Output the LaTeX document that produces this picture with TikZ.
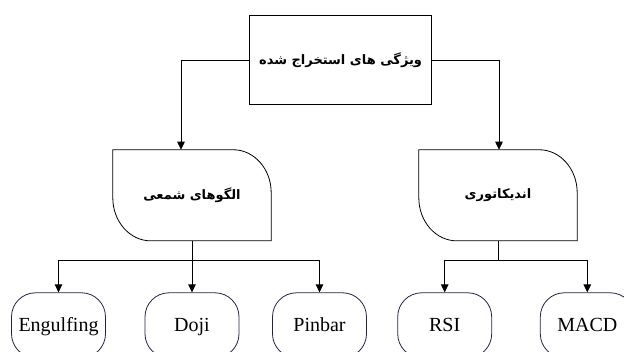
\documentclass[tikz,border=0pt]{standalone}
\usepackage{fontspec}
\setmainfont{Liberation Serif}
\newfontfamily\fa[Script=Arabic]{DejaVu Sans}
\TeXXeTstate=1
\usetikzlibrary{arrows.meta,calc}
\definecolor{navy}{RGB}{35,35,70}
\tikzset{
  line/.style={draw=black, line width=0.8pt},
  arr/.style={line, -{Triangle[length=8pt,width=7.5pt]}},
  topbox/.style={draw=black, line width=0.8pt, minimum width=182pt, minimum height=88.6pt, inner sep=0pt},
  midbox/.style={minimum width=158pt, minimum height=90.7pt, inner sep=0pt},
  leaf/.style={draw=navy, line width=0.8pt, rounded corners=24pt, minimum width=94pt, minimum height=65pt, inner sep=0pt, text height=13pt, text depth=0pt, font=\fontsize{20}{22}\selectfont},
  fatext/.style={font=\fa\bfseries\fontsize{13}{16}\selectfont}
}
\begin{document}
\begin{tikzpicture}[x=1pt,y=1pt]
\useasboundingbox (0,0) rectangle (624,351);
% top box
\node[topbox, fatext] (top) at (340.6,291) {\beginR ویژگی های استخراج شده\endR};
% middle nodes
\node[midbox, fatext] (L) at (192,155.7) {\beginR الگوهای شمعی\endR};
\node[midbox, fatext] (R) at (498,155.7) {\beginR اندیکاتوری\endR};
\foreach \n in {L,R}{
  \draw[line] (\n.north west) -- ($(\n.north east)+(-38pt,0)$)
    arc[start angle=90, end angle=0, x radius=38pt, y radius=43pt]
    -- (\n.south east) -- ($(\n.south west)+(38pt,0)$)
    arc[start angle=270, end angle=180, x radius=38pt, y radius=43pt]
    -- cycle;
}
% leaves
\node[leaf] (E) at (58.5,25.7) {Engulfing};
\node[leaf] (D) at (192,25.7) {Doji};
\node[leaf] (P) at (319.5,25.7) {Pinbar};
\node[leaf] (S) at (444.7,25.7) {RSI};
\node[leaf] (M) at (587.3,25.7) {MACD};
% connectors from top
\coordinate (jl) at (181,291);
\coordinate (jr) at (499,291);
\draw[arr] (top.west) -- (jl) -- (jl |- L.north);
\draw[arr] (top.east) -- (jr) -- (jr |- R.north);
% left bus
\coordinate (bl) at (192,90.3);
\draw[line] (L.south) -- (bl);
\draw[arr] (bl) -| (E.north);
\draw[arr] (bl) -| (P.north);
\draw[arr] (bl) -- (D.north);
% right bus
\coordinate (br) at (498,90.3);
\draw[line] (R.south) -- (br);
\draw[arr] (br) -| (S.north);
\draw[arr] (br) -| (M.north);
\end{tikzpicture}
\end{document}
